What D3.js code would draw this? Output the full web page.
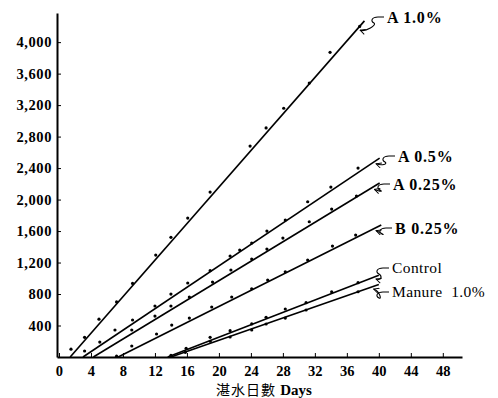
<!DOCTYPE html>
<html>
<head>
<meta charset="utf-8">
<script src="https://cdn.jsdelivr.net/npm/d3@7"></script>
<style>
  body { margin: 0; background: #fff; }
  svg { display: block; }
</style>
</head>
<body>
<div id="chart"></div>
<script>
// Series names (labels at right end)
const seriesNames = ["A 1.0%", "A 0.5%", "A 0.25%", "B 0.25%", "Control", "Manure  1.0%"];

// Fitted straight lines: day where each leaves the axis, and its end
const fitStartDay = [1.4, 3.0, 4.3, 7.4, 13.6, 14.0];
const fitEndDay = [38.2, 40.1, 40.1, 40.3, 40.0, 40.0];
const fitEndValue = [4270, 2527, 2210, 1676, 1040, 920];

// Observed points
const daysA10 = [1.5, 3.2, 5.0, 7.2, 9.2, 12.1, 14.0, 16.1, 18.9, 23.9, 25.9, 28.1, 31.3, 33.9, 37.6];
const valsA10 = [100, 250, 480, 700, 935, 1295, 1520, 1765, 2095, 2680, 2910, 3160, 3480, 3870, 4200];
const daysA05 = [3.2, 7.0, 9.2, 12.0, 14.0, 16.1, 18.9, 21.4, 22.6, 24.1, 26.0, 28.3, 31.1, 34.0, 37.4];
const valsA05 = [76, 343, 470, 648, 800, 940, 1096, 1283, 1358, 1447, 1600, 1740, 1972, 2159, 2400];
const daysA025 = [5.1, 9.1, 12.0, 14.0, 16.3, 19.2, 21.5, 24.1, 26.0, 28.0, 31.3, 34.1, 37.2];
const valsA025 = [190, 343, 520, 648, 762, 952, 1105, 1244, 1371, 1511, 1718, 1879, 2044];
const daysB025 = [7.2, 9.1, 12.2, 14.1, 16.3, 19.1, 21.6, 24.1, 26.1, 28.3, 31.1, 34.2, 37.1];
const valsB025 = [10, 140, 292, 406, 495, 635, 762, 867, 978, 1083, 1232, 1409, 1549];
const daysControl = [14.0, 15.9, 18.9, 21.4, 24.1, 25.9, 28.3, 30.9, 34.1, 37.4];
const valsControl = [20, 110, 250, 335, 420, 505, 610, 690, 829, 944];
const daysManure = [15.8, 18.9, 21.4, 24.1, 25.9, 28.3, 30.9, 37.4];
const valsManure = [60, 200, 254, 343, 419, 495, 597, 829];

const pointDays = [daysA10, daysA05, daysA025, daysB025, daysControl, daysManure];
const pointVals = [valsA10, valsA05, valsA025, valsB025, valsControl, valsManure];

// Axis ticks
const xTicks = [0, 4, 8, 12, 16, 20, 24, 28, 32, 36, 40, 44, 48];
const yTicks = [400, 800, 1200, 1600, 2000, 2400, 2800, 3200, 3600, 4000];
const xTitleZh = "湛水日數";
const xTitleEn = "Days";

const width = 498, height = 398;
const serif = "'Liberation Serif', 'DejaVu Serif', serif";

const svg = d3.select("#chart").append("svg")
    .attr("width", width)
    .attr("height", height);

const x = d3.scaleLinear().domain([-0.25, 50.4]).range([57, 462]);
const y = d3.scaleLinear().domain([0, 4370]).range([357, 13]);

// Axes (ticks point inward)
const xAxis = svg.append("g")
    .attr("transform", `translate(0,${y(0)})`)
    .call(d3.axisBottom(x).tickValues(xTicks).tickSize(-4).tickPadding(9).tickSizeOuter(0));
const yAxis = svg.append("g")
    .attr("transform", `translate(${x(-0.25)},0)`)
    .call(d3.axisLeft(y).tickValues(yTicks).tickSize(-4).tickPadding(5).tickSizeOuter(0)
        .tickFormat(d3.format(",")));

[xAxis, yAxis].forEach(g => {
    g.select(".domain").attr("stroke", "#000").attr("stroke-width", 2);
    g.selectAll(".tick line").attr("stroke", "#000").attr("stroke-width", 1);
    g.selectAll(".tick text")
        .attr("fill", "#000")
        .style("font-family", serif)
        .style("font-weight", "bold")
        .style("font-size", "14.5px");
});
yAxis.selectAll(".tick text").style("letter-spacing", "0.6px");

// Fitted lines
const lineGen = d3.line().x(d => x(d[0])).y(d => y(d[1]));
seriesNames.forEach((name, i) => {
    svg.append("path")
        .attr("d", lineGen([[fitStartDay[i], 0], [fitEndDay[i], fitEndValue[i]]]))
        .attr("fill", "none")
        .attr("stroke", "#000")
        .attr("stroke-width", 1.6);
});

// Points
seriesNames.forEach((name, i) => {
    svg.append("g").selectAll("circle")
        .data(pointDays[i].map((d, j) => [d, pointVals[i][j]]))
        .join("circle")
        .attr("cx", d => x(d[0]))
        .attr("cy", d => y(d[1]))
        .attr("r", 1.6)
        .attr("fill", "#000");
});

// Labels with curly leaders
const labelPos = [[387, 17], [398, 156], [393, 184], [395, 228], [392, 268], [392, 292]];
const leaderBack = [0.8, 0.7, 0.9, 0.9, 0.6, 0.9];

svg.append("defs").append("marker")
    .attr("id", "arr")
    .attr("viewBox", "0 0 10 10")
    .attr("refX", 9).attr("refY", 5)
    .attr("markerWidth", 6).attr("markerHeight", 6)
    .attr("orient", "auto")
    .append("path")
    .attr("d", "M1,1 L9,5 L1,9")
    .attr("fill", "none")
    .attr("stroke", "#000")
    .attr("stroke-width", 1.4);

seriesNames.forEach((name, i) => {
    const [lx, ly] = labelPos[i];
    const frac = (fitEndDay[i] - leaderBack[i] - fitStartDay[i]) / (fitEndDay[i] - fitStartDay[i]);
    const tx = x(fitEndDay[i] - leaderBack[i]) + 2;
    const ty = y(fitEndValue[i] * frac) + 2;
    const sx = lx - 3, sy = ly;
    svg.append("path")
        .attr("d", `M${sx},${sy} L${sx - 6},${sy} C${sx - 12},${sy} ${sx - 14},${sy + 4} ${sx - 10},${sy + 6}` +
            ` C${sx - 7},${sy + 8} ${tx + 6},${ty + 2} ${tx},${ty}`)
        .attr("fill", "none")
        .attr("stroke", "#000")
        .attr("stroke-width", 1.1)
        .attr("marker-end", "url(#arr)");
    svg.append("text")
        .attr("x", lx)
        .attr("y", ly)
        .attr("dy", "0.35em")
        .style("font-family", serif)
        .style("font-size", i < 4 ? "16px" : "15.5px")
        .style("font-weight", i < 4 ? "bold" : "normal")
        .style("letter-spacing", i < 4 ? "0.8px" : "0.4px")
        .style("white-space", "pre")
        .attr("fill", "#000")
        .text(name);
});

// X axis title
const title = svg.append("text")
    .attr("x", 264)
    .attr("y", 395)
    .attr("text-anchor", "middle")
    .attr("fill", "#000");
title.append("tspan")
    .style("font-family", "'Noto Sans CJK TC', sans-serif")
    .style("font-size", "14px")
    .style("letter-spacing", "1px")
    .text(xTitleZh + " ");
title.append("tspan")
    .style("font-family", serif)
    .style("font-size", "15px")
    .style("font-weight", "bold")
    .text(" " + xTitleEn);
</script>
</body>
</html>
